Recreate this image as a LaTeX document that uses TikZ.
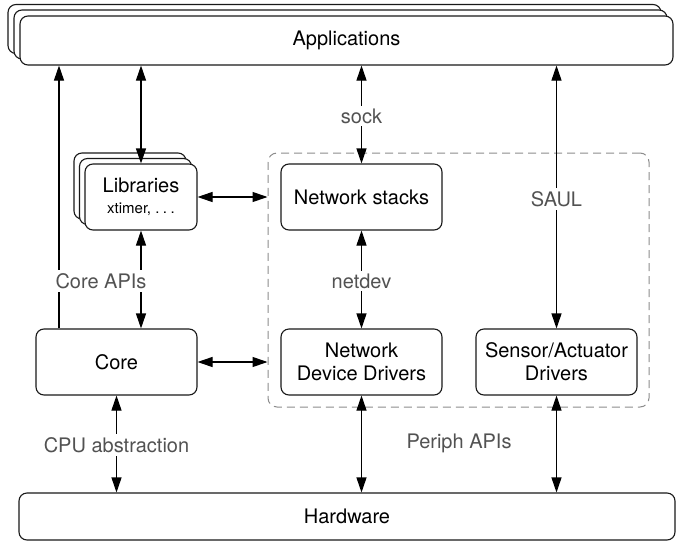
\documentclass[tikz,border=0pt]{standalone}
\usepackage{fontspec}
\setmainfont{TeX Gyre Heros}
\usetikzlibrary{arrows.meta}
\begin{document}
\begin{tikzpicture}[x=1pt,y=-1pt,
  box/.style={draw=black!90, line width=1.1pt, rounded corners=8pt, fill=white, inner sep=0pt, align=center, font=\fontsize{20}{23}\selectfont},
  lbl/.style={fill=white, text=black!68, font=\fontsize{20}{22}\selectfont, inner sep=3pt},
  tipA/.tip={Triangle[length=15pt,width=10pt]},
  conn/.style={line width=1.1pt, tipA-tipA},
  upconn/.style={line width=1.1pt, -tipA},
  group/.style={draw=black!45, line width=1pt, dash pattern=on 8pt off 5pt, rounded corners=9pt},
]
\useasboundingbox (0,0) rectangle (677,541);

% dashed group
\node[group, minimum width=381pt, minimum height=254pt, inner sep=0pt] (grp) at (458.5,280) {};

% Applications (stacked)
\node[box, minimum width=653pt, minimum height=49pt] (appC) at (334.5,29) {};
\node[box, minimum width=653pt, minimum height=49pt] (appB) at (340.5,34.5) {};
\node[box, minimum width=653pt, minimum height=49pt] (app) at (346.5,40.5) {Applications};

% Libraries (stacked)
\node[box, minimum width=112pt, minimum height=66pt] (libC) at (130,186) {};
\node[box, minimum width=112pt, minimum height=66pt] (libB) at (135.5,191.5) {};
\node[box, minimum width=112pt, minimum height=66pt] (lib) at (141,197)
  {Libraries\\[-2pt]{\fontsize{15}{17}\selectfont xtimer, .\kern3.5pt.\kern3.5pt.}};

% other boxes
\node[box, minimum width=161pt, minimum height=66pt] (ns) at (361.5,197) {Network stacks};
\node[box, minimum width=161pt, minimum height=66pt] (nd) at (361.5,362) {Network\\Device Drivers};
\node[box, minimum width=161pt, minimum height=66pt] (sa) at (556.5,362) {Sensor/Actuator\\Drivers};
\node[box, minimum width=161pt, minimum height=66pt] (core) at (116.5,362) {Core};
\node[box, minimum width=656pt, minimum height=47pt] (hw) at (347,516.5) {Hardware};

% helper coordinate for Core APIs line
\coordinate (xa) at (59,0);

% connectors
\draw[upconn] (core.north -| xa) -- (xa |- app.south);
\draw[conn] (lib.north) -- (lib.north |- app.south);
\draw[conn] (lib.south) -- (lib.south |- core.north);
\draw[conn] (lib.east) -- (lib.east -| grp.west);
\draw[conn] (core.east) -- (core.east -| grp.west);
\draw[conn] (ns.north) -- (ns.north |- app.south);
\draw[conn] (ns.south) -- (nd.north);
\draw[conn] (sa.north) -- (sa.north |- app.south);
\draw[conn] (nd.south) -- (nd.south |- hw.north);
\draw[conn] (sa.south) -- (sa.south |- hw.north);
\draw[conn] (core.south) -- (core.south |- hw.north);

% labels
\node[lbl] (lsock) at (361.5,116) {sock};
\node[lbl] (lcore) at (101,281) {Core APIs};
\node[lbl] (lnetdev) at (361.5,281) {netdev};
\node[lbl] (lsaul) at (556.5,199) {SAUL};
\node[lbl] (lcpu) at (116.5,445) {CPU abstraction};
\node[lbl] (lperiph) at (459,443) {Periph APIs};
\end{tikzpicture}
\end{document}
